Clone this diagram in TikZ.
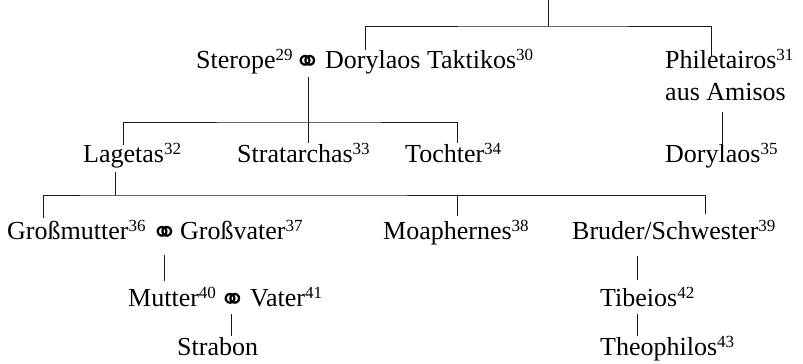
\documentclass[tikz,border=0pt]{standalone}
\usepackage{fontspec}
\setmainfont{Liberation Serif}
\newfontfamily\symfont{DejaVu Sans}
\newcommand\ssup[1]{\raisebox{7.5pt}{\fontsize{17}{17}\selectfont #1}}
\newcommand\marr{\raisebox{-4pt}{\symfont\bfseries\fontsize{32}{32}\selectfont ⚭}}
\newcommand\fs{\fontsize{26}{30}\selectfont}
\begin{document}
\begin{tikzpicture}[x=1pt,y=1pt,
  txt/.style={inner sep=0pt, font=\fs, anchor=base west},
  sym/.style={inner sep=0pt, font=\fs, anchor=base},
  lnk/.style={line width=1pt, draw=black!90}]
\useasboundingbox (0,0) rectangle (803,-364);
% row 1
\node[txt] (sterope) at (196,-68) {Sterope\ssup{29}};
\node[sym] (m1) at (308,-68) {\marr};
\node[txt] (dory) at (325,-68) {Dorylaos Taktikos\ssup{30}};
\node[txt] (phil) at (665,-68) {Philetairos\ssup{31}};
\node[txt] (amis) at (665,-100) {aus Amisos};
% row 2
\node[txt] (lag) at (83,-162) {Lagetas\ssup{32}};
\node[txt] (strat) at (237,-162) {Stratarchas\ssup{33}};
\node[txt] (toch) at (405,-162) {Tochter\ssup{34}};
\node[txt] (dor) at (665,-162) {Dorylaos\ssup{35}};
% row 3
\node[txt] (gm) at (7,-239) {Großmutter\ssup{36}};
\node[sym] (m3) at (164.5,-239) {\marr};
\node[txt] (gv) at (180,-239) {Großvater\ssup{37}};
\node[txt] (moa) at (383,-239) {Moaphernes\ssup{38}};
\node[txt] (bru) at (572,-239) {Bruder/Schwester\ssup{39}};
% row 4
\node[txt] (mut) at (128,-306) {Mutter\ssup{40}};
\node[sym] (m4) at (232.5,-306) {\marr};
\node[txt] (vat) at (250,-306) {Vater\ssup{41}};
\node[txt] (tib) at (600,-306) {Tibeios\ssup{42}};
% row 5
\node[txt] (stra) at (177,-355) {Strabon};
\node[txt] (theo) at (600,-355) {Theophilos\ssup{43}};
% connectors
\coordinate (t0) at (548,0);
\coordinate (b1) at (548,-26);
\coordinate (d1a) at (365,-50);
\coordinate (d1b) at (711,-57);
\draw[lnk] (t0) -- (b1);
\draw[lnk] (d1a) |- (b1) -| (d1b);
\coordinate (m1d) at (308,-77);
\coordinate (b2) at (308,-122);
\coordinate (d2a) at (123,-145);
\coordinate (d2b) at (308,-143);
\coordinate (d2c) at (457,-143);
\draw[lnk] (m1d) -- (d2b);
\draw[lnk] (d2a) |- (b2) -| (d2c);
\coordinate (a1) at (722,-112);
\coordinate (a2) at (722,-145);
\draw[lnk] (a1) -- (a2);
\coordinate (l1) at (115,-172);
\coordinate (b3) at (115,-195);
\coordinate (d3a) at (43,-218);
\coordinate (d3b) at (457,-216);
\coordinate (d3c) at (705,-214);
\draw[lnk] (l1) -- (b3);
\draw[lnk] (d3a) |- (b3) -| (d3c);
\draw[lnk] (d3b) -- (d3b |- b3);
\coordinate (g1) at (164,-255);
\coordinate (g2) at (164,-281);
\draw[lnk] (g1) -- (g2);
\coordinate (e1) at (231,-314);
\coordinate (e2) at (231,-336);
\draw[lnk] (e1) -- (e2);
\coordinate (s1) at (637,-256);
\coordinate (s2) at (637,-280);
\draw[lnk] (s1) -- (s2);
\coordinate (s3) at (637,-314);
\coordinate (s4) at (637,-336);
\draw[lnk] (s3) -- (s4);
\end{tikzpicture}
\end{document}
